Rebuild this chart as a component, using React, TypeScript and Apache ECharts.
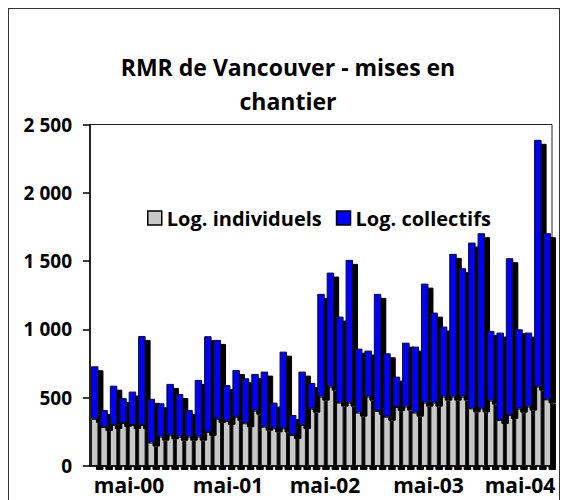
import { useEffect, useRef } from "react";
import * as echarts from "echarts";

// Log. individuels (grey, bottom of stack)
const INDIVIDUELS = [
  345, 285, 300, 315, 300, 300, 172, 215, 225, 215, 215, 215,
  250, 345, 330, 360, 313, 405, 288, 276, 276, 227, 300, 420,
  508, 581, 464, 464, 391, 508, 403, 361, 432, 435, 391, 464,
  464, 508, 508, 508, 422, 422, 479, 337, 374, 420, 435, 581,
  488,
];
// Log. collectifs (blue, top of stack)
const COLLECTIFS = [
  385, 125, 288, 182, 245, 652, 320, 244, 376, 312, 195, 415,
  700, 578, 263, 343, 329, 269, 403, 188, 561, 147, 391, 188,
  752, 835, 630, 1045, 468, 337, 857, 464, 222, 468, 483, 871,
  659, 513, 1045, 940, 1214, 1282, 510, 640, 1147, 581, 542, 1807,
  1216,
];
const CATEGORIES = INDIVIDUELS.map((_, i) => String(i + 1));
const X_LABELS = ["mai-00", "mai-01", "mai-02", "mai-03", "mai-04"];
const X_LABEL_POS = [4.14, 14.64, 24.92, 35.9, 45.6];
const Y_MAX = 2500;
const Y_STEP = 500;

const FONT = "'Open Sans', 'DejaVu Sans', sans-serif";

function fmtThousands(v: number): string {
  if (v < 1000) return String(v);
  const th = Math.floor(v / 1000);
  const rest = String(v % 1000).padStart(3, "0");
  return `${th} ${rest}`;
}

export default function App() {
  const ref = useRef<HTMLDivElement>(null);
  useEffect(() => {
    const chart = echarts.init(ref.current!, null, { renderer: "svg" });
    const shadow = {
      shadowColor: "#000",
      shadowBlur: 0,
      shadowOffsetX: 5,
      shadowOffsetY: 4,
    };
    chart.setOption({
      animation: false,
      title: {
        text: "RMR de Vancouver - mises en\nchantier",
        left: 275,
        top: 37,
        textAlign: "center",
        textStyle: {
          fontFamily: FONT,
          fontWeight: "bold",
          fontSize: 23,
          lineHeight: 34,
          color: "#000",
        },
      },
      legend: {
        left: 134,
        top: 195,
        itemWidth: 14,
        itemHeight: 14,
        itemGap: 14,
        icon: "rect",
        textStyle: {
          fontFamily: FONT,
          fontWeight: "bold",
          fontSize: 20,
          color: "#000",
        },
        itemStyle: {
          borderColor: "#000",
          borderWidth: 1.5,
          shadowBlur: 0,
          shadowOffsetX: 0,
          shadowOffsetY: 0,
          shadowColor: "rgba(0,0,0,0)",
        },
        data: ["Log. individuels", "Log. collectifs"],
      },
      grid: {
        left: 82,
        right: 8,
        top: 116.5,
        bottom: 34,
        show: true,
        borderColor: "#222",
        borderWidth: 1,
        containLabel: false,
      },
      xAxis: [
        {
          type: "category",
          data: CATEGORIES,
          boundaryGap: true,
          axisLine: { show: true, lineStyle: { color: "#000", width: 1.5 } },
          axisTick: { show: false },
          axisLabel: { show: false },
          splitLine: { show: false },
        },
        {
          type: "value",
          min: 0,
          max: CATEGORIES.length,
          position: "bottom",
          axisLine: { show: false },
          axisTick: { show: false },
          splitLine: { show: false },
          axisLabel: {
            customValues: X_LABEL_POS,
            margin: 8,
            fontFamily: FONT,
            fontWeight: "bold",
            fontSize: 21,
            color: "#000",
            formatter: (v: number) => {
              const i = X_LABEL_POS.findIndex((p) => Math.abs(p - v) < 0.01);
              return i >= 0 ? X_LABELS[i] : "";
            },
          },
        },
      ],
      yAxis: {
        type: "value",
        min: 0,
        max: Y_MAX,
        interval: Y_STEP,
        axisLine: { show: true, lineStyle: { color: "#000", width: 1.5 } },
        axisTick: { show: true, length: 7, lineStyle: { color: "#000", width: 1.5 } },
        splitLine: { show: false },
        axisLabel: {
          margin: 18,
          fontFamily: FONT,
          fontWeight: "bold",
          fontSize: 19,
          color: "#000",
          formatter: (v: number) => fmtThousands(v),
        },
      },
      series: [
        {
          name: "Log. individuels",
          type: "bar",
          stack: "total",
          data: INDIVIDUELS,
          barWidth: 7.5,
          itemStyle: {
            color: "#c8c8c8",
            borderColor: "#111",
            borderWidth: 1,
            ...shadow,
          },
        },
        {
          name: "Log. collectifs",
          type: "bar",
          stack: "total",
          data: COLLECTIFS,
          barWidth: 7.5,
          itemStyle: {
            color: "#0000ff",
            borderColor: "#111",
            borderWidth: 1,
            ...shadow,
          },
        },
      ],
    });
    return () => chart.dispose();
  }, []);
  return (
    <div style={{ position: "relative", width: 552, height: 492 }}>
      <div ref={ref} style={{ width: 552, height: 492 }} />
      <div
        style={{
          position: "absolute",
          left: -1,
          top: -1,
          width: 554,
          height: 493,
          borderTop: "2px solid #333",
          borderLeft: "2px solid #333",
          borderRight: "2px solid #333",
          boxSizing: "border-box",
          pointerEvents: "none",
        }}
      />
    </div>
  );
}
